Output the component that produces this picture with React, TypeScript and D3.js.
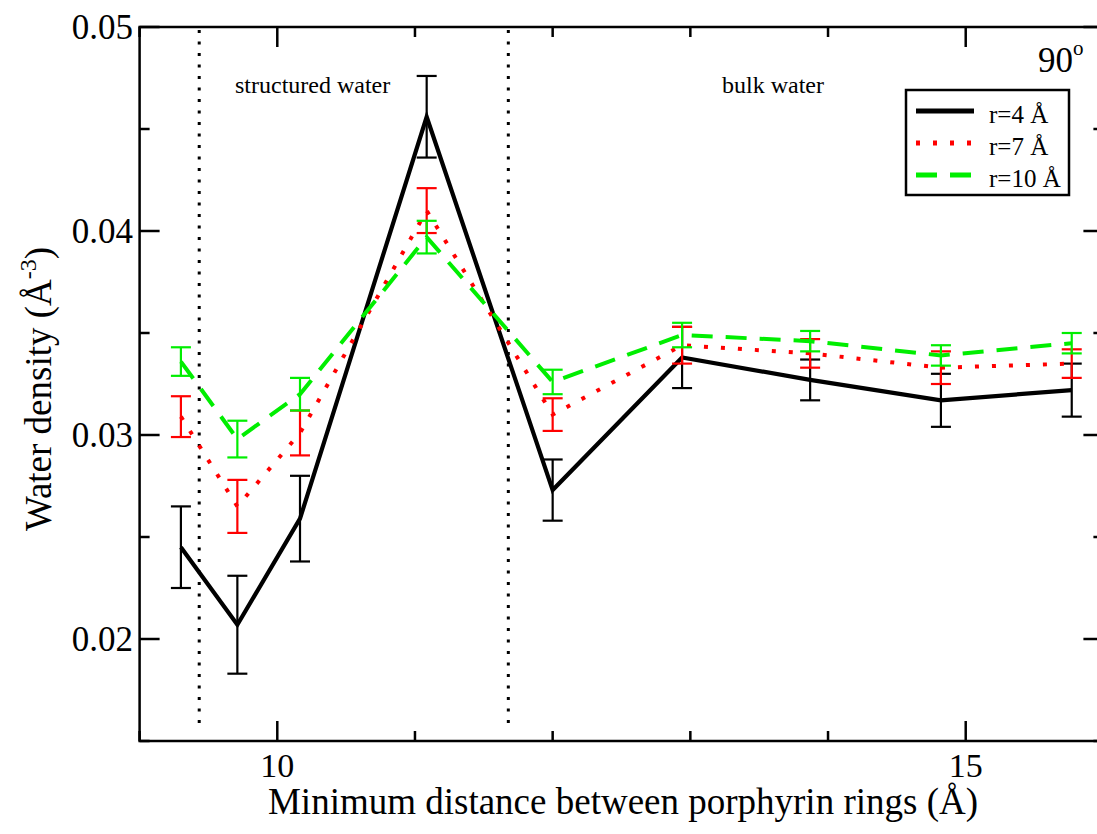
import React, { useEffect, useRef } from "react";
import * as d3 from "d3";

// distances (Å) and densities (Å^-3)
const distances = [9.3, 9.71, 10.165, 11.085, 12.0, 12.94, 13.87, 14.82, 15.77];
const densityR4 = [0.0245, 0.0207, 0.0259, 0.0456, 0.0273, 0.0338, 0.0327, 0.0317, 0.0322];
const errorR4 = [0.002, 0.0024, 0.0021, 0.002, 0.0015, 0.0015, 0.001, 0.0013, 0.0013];
const densityR7 = [0.0309, 0.0265, 0.0301, 0.041, 0.031, 0.0344, 0.034, 0.0333, 0.0335];
const errorR7 = [0.001, 0.0013, 0.0011, 0.0011, 0.0008, 0.0009, 0.0007, 0.0008, 0.0007];
const densityR10 = [0.0336, 0.0298, 0.032, 0.0397, 0.0326, 0.0349, 0.0346, 0.0339, 0.0345];
const errorR10 = [0.0007, 0.0009, 0.0008, 0.0008, 0.0006, 0.0006, 0.0005, 0.0005, 0.0005];
const seriesNames = ["r=4 Å", "r=7 Å", "r=10 Å"];

const regionBounds = [9.433, 11.678];
const regionLabels = ["structured water", "bulk water"];
const xMajorTicks = [10, 15];
const yMajorTicks = [0.02, 0.03, 0.04, 0.05];

const width = 1097;
const height = 834;
const serif = "Liberation Serif, serif";

const styles = [
  { color: "#000000", width: 4.2, dash: null as string | null },
  { color: "#ff0000", width: 4, dash: "4 13" },
  { color: "#00ee00", width: 4, dash: "21 13" },
];

const App = () => {
  const ref = useRef<SVGSVGElement>(null);

  useEffect(() => {
    const svg = d3.select(ref.current);
    svg.selectAll("*").remove();

    const x = d3.scaleLinear().domain([9, 16]).range([139.6, 1103.4]);
    const y = d3.scaleLinear().domain([0.015, 0.05]).range([741, 27]);
    const x0 = x.range()[0], x1 = x.range()[1];
    const y0 = y.range()[0], y1 = y.range()[1];

    const series = [
      { vals: densityR4, errs: errorR4 },
      { vals: densityR7, errs: errorR7 },
      { vals: densityR10, errs: errorR10 },
    ];

    // region separators
    svg.append("g")
      .selectAll("line")
      .data(regionBounds)
      .join("line")
        .attr("x1", d => x(d)).attr("x2", d => x(d))
        .attr("y1", y1 + 3).attr("y2", y0 - 10)
        .attr("stroke", "#000")
        .attr("stroke-width", 3)
        .attr("stroke-dasharray", "3 8.5");

    svg.append("g")
      .attr("font-family", serif)
      .attr("font-size", 24)
      .selectAll("text")
      .data(regionLabels)
      .join("text")
        .attr("x", (d, i) => i === 0 ? 235 : 722)
        .attr("y", 93)
        .text(d => d);

    const line = d3.line<number>()
      .x((d, i) => x(distances[i]))
      .y(d => y(d));

    series.forEach((s, k) => {
      const st = styles[k];
      const g = svg.append("g");
      g.append("path")
        .datum(s.vals)
        .attr("d", line)
        .attr("fill", "none")
        .attr("stroke", st.color)
        .attr("stroke-width", st.width)
        .attr("stroke-linejoin", "miter")
        .attr("stroke-dasharray", st.dash);

      const eb = g.append("g")
        .attr("stroke", st.color)
        .attr("stroke-width", 2.2)
        .selectAll("g")
        .data(s.vals.map((v, i) => ({ x: distances[i], v, e: s.errs[i] })))
        .join("g");
      eb.append("line")
        .attr("x1", d => x(d.x)).attr("x2", d => x(d.x))
        .attr("y1", d => y(d.v + d.e)).attr("y2", d => y(d.v - d.e));
      eb.append("line")
        .attr("x1", d => x(d.x) - 10).attr("x2", d => x(d.x) + 10)
        .attr("y1", d => y(d.v + d.e)).attr("y2", d => y(d.v + d.e));
      eb.append("line")
        .attr("x1", d => x(d.x) - 10).attr("x2", d => x(d.x) + 10)
        .attr("y1", d => y(d.v - d.e)).attr("y2", d => y(d.v - d.e));
    });

    // frame + ticks on all four sides, pointing inward
    const ax = svg.append("g").attr("stroke", "#000").attr("stroke-width", 2.5);
    ax.append("rect")
      .attr("x", x0).attr("y", y1)
      .attr("width", x1 - x0).attr("height", y0 - y1)
      .attr("fill", "none");

    const xTicks = d3.range(9, 16.001, 1);
    const yTicks = d3.range(0.015, 0.0501, 0.005);
    const isMajorX = (t: number) => xMajorTicks.some(m => Math.abs(m - t) < 1e-6);
    const isMajorY = (t: number) => yMajorTicks.some(m => Math.abs(m - t) < 1e-6);

    xTicks.forEach(t => {
      const len = isMajorX(t) ? 20 : 10;
      ax.append("line").attr("x1", x(t)).attr("x2", x(t)).attr("y1", y0).attr("y2", y0 - len);
      ax.append("line").attr("x1", x(t)).attr("x2", x(t)).attr("y1", y1).attr("y2", y1 + len);
    });
    yTicks.forEach(t => {
      const len = isMajorY(t) ? 20 : 10;
      ax.append("line").attr("x1", x0).attr("x2", x0 + len).attr("y1", y(t)).attr("y2", y(t));
      ax.append("line").attr("x1", x1).attr("x2", x1 - len).attr("y1", y(t)).attr("y2", y(t));
    });

    const labels = svg.append("g").attr("font-family", serif).attr("fill", "#000");
    labels.append("g")
      .attr("font-size", 34)
      .attr("text-anchor", "middle")
      .selectAll("text")
      .data(xMajorTicks)
      .join("text")
        .attr("x", d => x(d))
        .attr("y", 777)
        .text(d => d3.format("d")(d));
    labels.append("g")
      .attr("font-size", 35)
      .attr("text-anchor", "end")
      .selectAll("text")
      .data(yMajorTicks)
      .join("text")
        .attr("x", 133)
        .attr("y", d => y(d) + 12)
        .text(d => d3.format(".2f")(d));

    labels.append("text")
      .attr("x", 623)
      .attr("y", 814)
      .attr("font-size", 37)
      .attr("text-anchor", "middle")
      .text("Minimum distance between porphyrin rings (Å)");

    const yl = labels.append("text")
      .attr("transform", "translate(51,389) rotate(-90)")
      .attr("font-size", 37)
      .attr("text-anchor", "middle");
    yl.append("tspan").text("Water density (Å");
    yl.append("tspan").attr("dy", -15).attr("font-size", 24).text("-3");
    yl.append("tspan").attr("dy", 15).text(")");

    const ang = labels.append("text").attr("x", 1038).attr("y", 72).attr("font-size", 35);
    ang.append("tspan").text("90");
    ang.append("tspan").attr("dy", -17).attr("font-size", 21).text("o");

    // legend
    const lg = svg.append("g");
    lg.append("rect")
      .attr("x", 906).attr("y", 90)
      .attr("width", 163).attr("height", 105)
      .attr("fill", "#fff")
      .attr("stroke", "#000")
      .attr("stroke-width", 2.5);
    const rows = lg.selectAll("g")
      .data(seriesNames)
      .join("g")
        .attr("transform", (d, i) => `translate(0,${111 + i * 32})`);
    rows.append("line")
      .attr("x1", 916).attr("x2", 974)
      .attr("y1", 0).attr("y2", 0)
      .attr("stroke", (d, i) => styles[i].color)
      .attr("stroke-width", (d, i) => styles[i].width + 1)
      .attr("stroke-dasharray", (d, i) => styles[i].dash);
    rows.append("text")
      .attr("x", 989)
      .attr("y", 12)
      .attr("font-family", serif)
      .attr("font-size", 25)
      .text(d => d);
  }, []);

  return (
    <svg
      ref={ref}
      width={width}
      height={height}
      style={{ position: "absolute", left: 0, top: 0, background: "#fff" }}
    />
  );
};

export default App;
